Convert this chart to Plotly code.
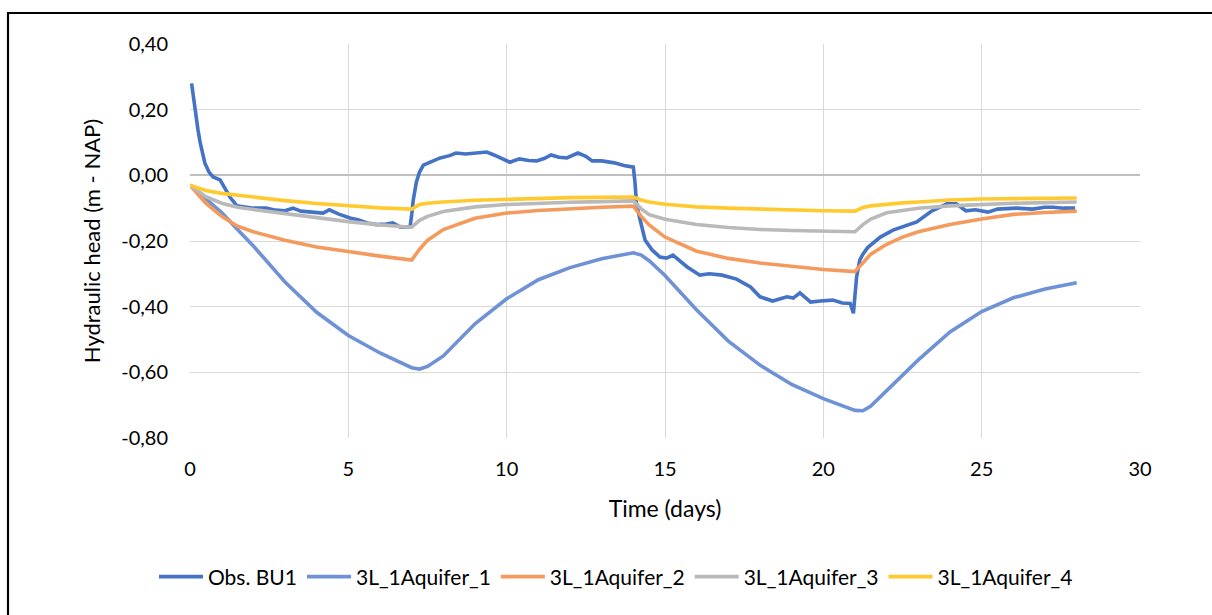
import plotly.graph_objects as go

# ---------------- data ----------------
obs_t = [0.05, 0.1, 0.16, 0.25, 0.32, 0.47, 0.6, 0.73, 0.95, 1.1, 1.26, 1.48, 1.7, 2.0, 2.4, 2.7,
         3.0, 3.25, 3.5, 3.9, 4.2, 4.4, 4.7, 5.05, 5.3, 5.6, 5.9, 6.2, 6.4, 6.63, 6.95, 7.0,
         7.05, 7.15, 7.25, 7.37, 7.6, 7.9, 8.2, 8.4, 8.7, 9.0, 9.37, 9.6, 9.8, 10.1, 10.4, 10.7,
         10.95, 11.2, 11.4, 11.65, 11.9, 12.25, 12.5, 12.7, 13.0, 13.4, 13.7, 13.9, 14.0, 14.05,
         14.1, 14.2, 14.37, 14.6, 14.84, 15.05, 15.25, 15.7, 16.1, 16.4, 16.8, 17.26, 17.7, 18.0,
         18.4, 18.85, 19.05, 19.26, 19.6, 19.9, 20.3, 20.6, 20.85, 20.95, 21.05, 21.15, 21.25,
         21.4, 21.8, 22.2, 22.4, 22.95, 23.4, 23.9, 24.2, 24.5, 24.8, 25.2, 25.5, 26.1, 26.6,
         27.0, 27.25, 27.6, 27.95]
obs_h = [0.280, 0.240, 0.190, 0.140, 0.100, 0.037, 0.010, -0.005, -0.014, -0.040, -0.066, -0.093,
         -0.097, -0.100, -0.100, -0.106, -0.108, -0.100, -0.109, -0.113, -0.115, -0.105, -0.118,
         -0.130, -0.135, -0.145, -0.150, -0.148, -0.145, -0.157, -0.157, -0.120, -0.075, -0.020,
         0.010, 0.031, 0.040, 0.053, 0.060, 0.068, 0.065, 0.067, 0.071, 0.062, 0.053, 0.040,
         0.050, 0.045, 0.044, 0.052, 0.062, 0.055, 0.053, 0.068, 0.058, 0.044, 0.044, 0.038,
         0.030, 0.028, 0.025, -0.020, -0.085, -0.130, -0.197, -0.228, -0.249, -0.252, -0.243,
         -0.279, -0.304, -0.300, -0.304, -0.316, -0.340, -0.370, -0.383, -0.370, -0.374, -0.358,
         -0.386, -0.383, -0.380, -0.389, -0.390, -0.420, -0.310, -0.258, -0.240, -0.220, -0.188,
         -0.167, -0.160, -0.142, -0.110, -0.087, -0.087, -0.108, -0.105, -0.112, -0.103, -0.100,
         -0.103, -0.097, -0.097, -0.100, -0.100]

t_model = [0, 0.5, 1, 1.5, 2, 3, 4, 5, 6, 7, 7.25, 7.5, 8, 9, 10, 11, 12, 13, 14, 14.25, 14.5,
           15, 16, 17, 18, 19, 20, 21, 21.25, 21.5, 22, 22.5, 23, 24, 25, 26, 27, 28]
aq1 = [-0.030, -0.070, -0.113, -0.165, -0.215, -0.325, -0.417, -0.488, -0.541, -0.586, -0.590,
       -0.582, -0.550, -0.452, -0.376, -0.318, -0.281, -0.254, -0.236, -0.243, -0.260, -0.305,
       -0.410, -0.505, -0.578, -0.637, -0.680, -0.716, -0.717, -0.703, -0.655, -0.607, -0.562,
       -0.477, -0.415, -0.373, -0.346, -0.327]
aq2 = [-0.030, -0.085, -0.125, -0.155, -0.172, -0.198, -0.218, -0.233, -0.246, -0.258, -0.225,
       -0.198, -0.165, -0.131, -0.115, -0.107, -0.101, -0.097, -0.094, -0.125, -0.151, -0.188,
       -0.231, -0.253, -0.267, -0.278, -0.287, -0.293, -0.265, -0.240, -0.210, -0.188, -0.172,
       -0.150, -0.133, -0.119, -0.113, -0.109]
aq3 = [-0.030, -0.065, -0.085, -0.097, -0.104, -0.117, -0.130, -0.141, -0.151, -0.158, -0.137,
       -0.125, -0.110, -0.096, -0.089, -0.085, -0.082, -0.080, -0.078, -0.102, -0.120, -0.134,
       -0.150, -0.159, -0.165, -0.168, -0.170, -0.172, -0.150, -0.133, -0.114, -0.106, -0.100,
       -0.093, -0.088, -0.085, -0.083, -0.081]
aq4 = [-0.030, -0.046, -0.055, -0.061, -0.066, -0.077, -0.086, -0.093, -0.099, -0.103, -0.089,
       -0.085, -0.081, -0.076, -0.073, -0.070, -0.068, -0.067, -0.066, -0.075, -0.081, -0.088,
       -0.096, -0.100, -0.103, -0.106, -0.108, -0.109, -0.098, -0.093, -0.088, -0.084, -0.081,
       -0.075, -0.072, -0.071, -0.070, -0.069]

series_names = ["Obs. BU1", "3L_1Aquifer_1", "3L_1Aquifer_2", "3L_1Aquifer_3", "3L_1Aquifer_4"]
x_tick_vals = [0, 5, 10, 15, 20, 25, 30]
x_tick_text = ["0", "5", "10", "15", "20", "25", "30"]
y_tick_vals = [-0.8, -0.6, -0.4, -0.2, 0.0, 0.2, 0.4]
y_tick_text = ["-0,80", "-0,60", "-0,40", "-0,20", "0,00", "0,20", "0,40"]

# ---------------- figure ----------------
colors = ["#4472C4", "#6E92D5", "#F39A5C", "#B9B9B9", "#FFCA30"]
FONT = "Lato, 'Open Sans', sans-serif"

fig = go.Figure()
all_x = [obs_t, t_model, t_model, t_model, t_model]
all_y = [obs_h, aq1, aq2, aq3, aq4]
for name, xs, ys, c in zip(series_names, all_x, all_y, colors):
    fig.add_trace(go.Scatter(x=xs, y=ys, mode="lines", name=name,
                             line=dict(color=c, width=3.6), hoverinfo="x+y+name"))

W, H = 1212, 615
L, R, T, B = 190, 72, 44, 177
pw, ph = W - L - R, H - T - B

def px_x(p):
    return (p - L) / pw

def px_y(p):
    return 1 - (p - T) / ph

fig.update_layout(
    width=W, height=H,
    margin=dict(l=L, r=R, t=T, b=B, pad=0),
    paper_bgcolor="white", plot_bgcolor="white",
    font=dict(family=FONT, size=20, color="#000000"),
    showlegend=True,
    legend=dict(orientation="h", xref="container", yref="container",
                x=616 / W, xanchor="center", y=1 - 577 / H, yanchor="middle",
                font=dict(size=21), itemwidth=44, tracegroupgap=0,
                bgcolor="rgba(0,0,0,0)"),
    xaxis=dict(range=[0, 30], tickvals=x_tick_vals, ticktext=x_tick_text,
               showgrid=True, gridcolor="#D9D9D9", gridwidth=1.3,
               zeroline=False, showline=False, ticks="",
               ticklabelstandoff=17,
               title=dict(text="Time (days)", font=dict(size=23), standoff=21)),
    yaxis=dict(range=[-0.8, 0.4], tickvals=y_tick_vals, ticktext=y_tick_text,
               showgrid=True, gridcolor="#D9D9D9", gridwidth=1.3,
               zeroline=True, zerolinecolor="#BFBFBF", zerolinewidth=1.6,
               showline=False, ticks="", ticklabelstandoff=21,
               title=dict(text="Hydraulic head (m - NAP)", font=dict(size=22), standoff=14)),
    shapes=[
        dict(type="line", xref="paper", yref="paper",
             x0=px_x(8), x1=px_x(8), y0=px_y(13), y1=px_y(640),
             line=dict(color="black", width=2.2)),
        dict(type="line", xref="paper", yref="paper",
             x0=px_x(7), x1=px_x(1240), y0=px_y(13), y1=px_y(13),
             line=dict(color="black", width=2.2)),
    ],
)

fig.write_html("out.html")
